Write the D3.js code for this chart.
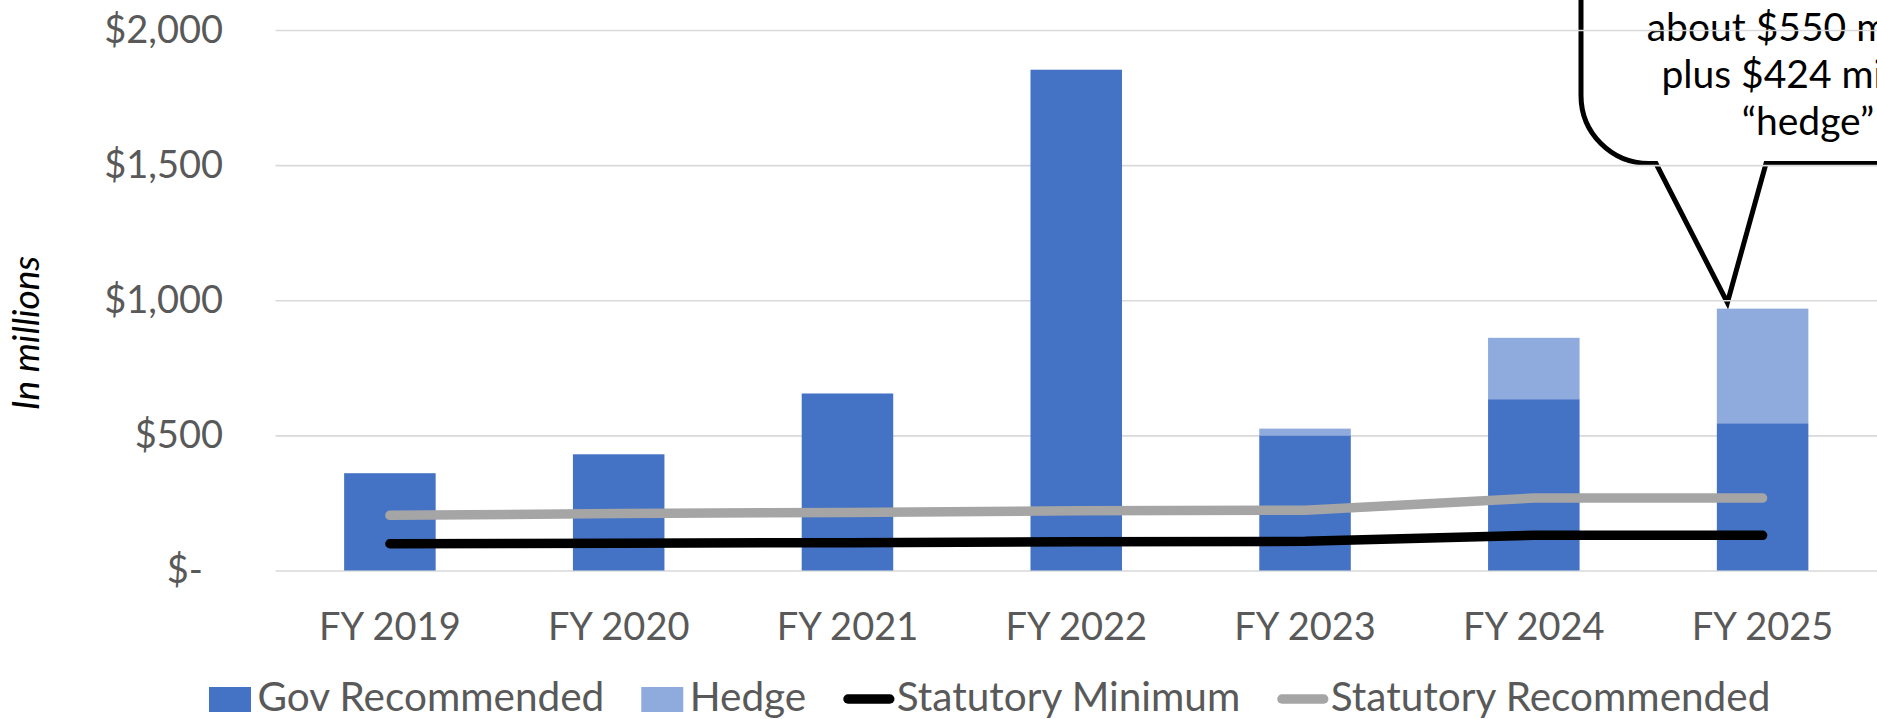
<!DOCTYPE html>
<html><head><meta charset="utf-8">
<script src="https://cdn.jsdelivr.net/npm/d3@7"></script>
<style>body{margin:0;background:#fff;overflow:hidden} svg{display:block}</style>
</head><body>
<svg id="chart" width="1877" height="719"></svg>
<script>
// ---- data ----
const categories = ["FY 2019","FY 2020","FY 2021","FY 2022","FY 2023","FY 2024","FY 2025"];
const govRecommended = [360, 430, 655, 1853, 500, 634, 545];
const hedge = [0, 0, 0, 0, 25, 227, 424];
const statutoryMinimum = [99, 101, 103, 106, 108, 130, 130];
const statutoryRecommended = [204, 211, 215, 221, 223, 268, 268];
const yTickValues = [0, 500, 1000, 1500, 2000];
const seriesNames = ["Gov Recommended", "Hedge", "Statutory Minimum", "Statutory Recommended"];
const calloutLines = ["about $550 million", "plus $424 million", "\u201Chedge\u201D"];
const yAxisTitle = "In millions";

// ---- layout ----
const W = 1877, H = 719;
const plot = {left: 275.5, right: 1877, top: 30, bottom: 570.5};
const FONT = "Lato, 'Open Sans', sans-serif";
const COL = {gov: "#4472C4", hedge: "#8FAADC", min: "#000000", rec: "#A5A5A5", text: "#595959", grid: "#D9D9D9"};

const svg = d3.select("#chart").style("font-family", FONT);

const x = d3.scaleBand().domain(categories).range([plot.left, plot.right])
  .paddingInner(0.6).paddingOuter(0.3);
const y = d3.scaleLinear().domain([0, 2000]).range([plot.bottom, plot.top]);
const cx = c => x(c) + x.bandwidth() / 2;

const table = categories.map((c, i) => ({cat: c, gov: govRecommended[i], hedge: hedge[i],
  min: statutoryMinimum[i], rec: statutoryRecommended[i]}));

// ---- callout (drawn underneath gridlines) ----
const last = table[table.length - 1];
const tipX = x(last.cat) + x.bandwidth() * 0.115;
const tipY = y(last.gov + last.hedge) - 6;
const bodyLeft = 1581, bodyBottom = 163.5, r = 68;
const calloutPath = `M${bodyLeft},-20 V${bodyBottom - r} A${r},${r} 0 0 0 ${bodyLeft + r},${bodyBottom}`
  + ` L1656,${bodyBottom} L${tipX},${tipY} L1766,${bodyBottom} L${W + 20},${bodyBottom}`;
svg.append("path").attr("d", calloutPath).attr("fill", "none")
  .attr("stroke", "#000").attr("stroke-width", 5).attr("stroke-linejoin", "miter");
svg.append("g").selectAll("text").data(calloutLines).join("text")
  .attr("x", 1808).attr("y", (d, i) => 41 + i * 47)
  .attr("text-anchor", "middle").attr("font-size", 39).attr("fill", "#000")
  .text(d => d);

// ---- y axis with gridlines ----
const fmt = v => v === 0 ? "$-" : "$" + d3.format(",")(v);
const yAxis = svg.append("g").attr("transform", `translate(${plot.left},0)`)
  .call(d3.axisLeft(y).tickValues(yTickValues).tickFormat(fmt)
    .tickSize(-(plot.right - plot.left)).tickPadding(52.5));
yAxis.select(".domain").remove();
yAxis.selectAll(".tick line").attr("stroke", COL.grid).attr("stroke-width", 1.6);
yAxis.selectAll(".tick text").attr("fill", COL.text).attr("font-size", 38)
  .attr("font-family", FONT)
  .attr("dx", d => d === 0 ? -20 : 0);

// ---- stacked bars ----
const stack = d3.stack().keys(["gov", "hedge"])(table);
const barColors = {gov: COL.gov, hedge: COL.hedge};
svg.append("g").selectAll("g").data(stack).join("g")
  .attr("fill", s => barColors[s.key])
  .selectAll("rect").data(s => s.filter(d => d[1] > d[0])).join("rect")
  .attr("x", d => x(d.data.cat)).attr("width", x.bandwidth())
  .attr("y", d => y(d[1])).attr("height", d => y(d[0]) - y(d[1]));

// ---- lines ----
const lineGen = key => d3.line().x(d => cx(d.cat)).y(d => y(d[key]));
[["rec", COL.rec], ["min", COL.min]].forEach(([k, c]) => {
  svg.append("path").datum(table).attr("d", lineGen(k)).attr("fill", "none")
    .attr("stroke", c).attr("stroke-width", 9.5)
    .attr("stroke-linecap", "round").attr("stroke-linejoin", "round");
});

// ---- x axis ----
const xAxis = svg.append("g").attr("transform", `translate(0,${plot.bottom})`)
  .call(d3.axisBottom(x).tickSize(0));
xAxis.select(".domain").remove();
xAxis.selectAll(".tick text").attr("y", 69).attr("dy", 0)
  .attr("fill", COL.text).attr("font-size", 38).attr("font-family", FONT);

// ---- y title ----
svg.append("text").attr("transform", "translate(39,333) rotate(-90)")
  .attr("text-anchor", "middle").attr("font-size", 37).attr("font-style", "italic")
  .attr("fill", "#000").text(yAxisTitle);

// ---- legend ----
const legendSym = [
  {type: "rect", color: COL.gov}, {type: "rect", color: COL.hedge},
  {type: "line", color: COL.min}, {type: "line", color: COL.rec}];
const lg = svg.append("g");
let lx = 209;
const ly = 699;
seriesNames.forEach((name, i) => {
  const s = legendSym[i];
  let tx;
  if (s.type === "rect") {
    lg.append("rect").attr("x", lx).attr("y", ly - 12).attr("width", 42).attr("height", 25)
      .attr("fill", s.color);
    tx = lx + 48.5;
  } else {
    lg.append("line").attr("x1", lx + 4.75).attr("x2", lx + 46.5).attr("y1", ly).attr("y2", ly)
      .attr("stroke", s.color).attr("stroke-width", 9.5).attr("stroke-linecap", "round");
    tx = lx + 53.5;
  }
  const t = lg.append("text").attr("x", tx).attr("y", 711).attr("font-size", 40.5)
    .attr("fill", COL.text).text(name);
  lx = tx + t.node().getComputedTextLength() + 37;
});
</script>
</body></html>
